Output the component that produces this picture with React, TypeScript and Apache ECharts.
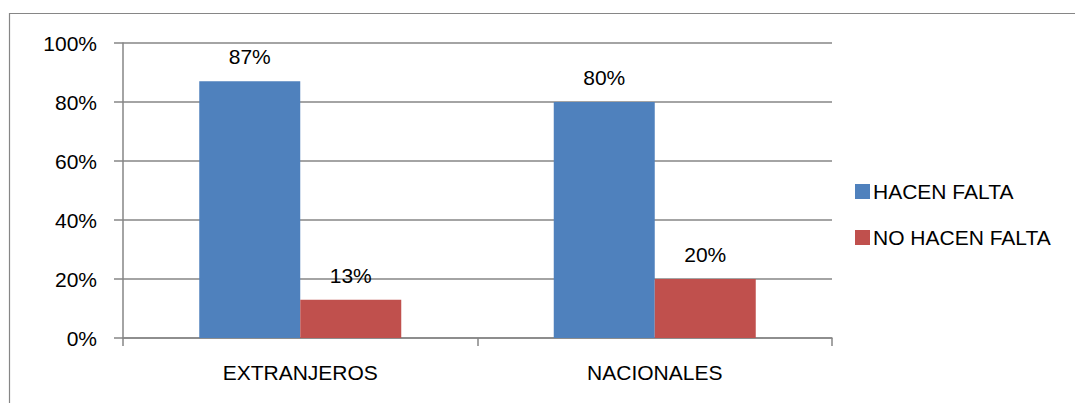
import React, { useEffect, useRef } from "react";
import * as echarts from "echarts";

const categories = ["EXTRANJEROS", "NACIONALES"];
const seriesNames = ["HACEN FALTA", "NO HACEN FALTA"];
const hacenFalta = [87, 80];
const noHacenFalta = [13, 20];
const yTicks = [0, 20, 40, 60, 80, 100];

const FONT = "'Liberation Sans', Arial, sans-serif";
const GRAY = "#868686";

export default function App() {
  const ref = useRef<HTMLDivElement>(null);
  useEffect(() => {
    if (!ref.current) return;
    const chart = echarts.init(ref.current, null, { renderer: "svg" });
    const label = {
      show: true,
      position: "top",
      distance: 14,
      formatter: (p: any) => p.value + "%",
      color: "#000",
      fontSize: 21,
      fontFamily: FONT,
    };
    chart.setOption({
      animation: false,
      textStyle: { fontFamily: FONT },
      graphic: [
        {
          type: "rect",
          shape: { x: 9.5, y: 13.5, width: 1200, height: 600 },
          style: { fill: "none", stroke: GRAY, lineWidth: 1.2 },
          silent: true,
        },
      ],
      grid: { left: 123, top: 43, right: 243, bottom: 65 },
      legend: {
        orient: "vertical",
        left: 850,
        top: 176,
        itemWidth: 15,
        itemHeight: 15,
        itemGap: 25,
        icon: "rect",
        textStyle: { fontSize: 21, color: "#000", fontFamily: FONT, padding: [0, 0, 0, -2] },
        data: seriesNames,
      },
      xAxis: {
        type: "category",
        data: categories,
        axisLine: { lineStyle: { color: GRAY, width: 1.5 } },
        axisTick: { show: true, length: 8, lineStyle: { color: GRAY, width: 1.5 } },
        axisLabel: { color: "#000", fontSize: 21, fontFamily: FONT, margin: 24 },
      },
      yAxis: {
        type: "value",
        min: 0,
        max: 100,
        interval: 20,
        axisLine: { show: true, lineStyle: { color: GRAY, width: 1.5 } },
        axisTick: { show: true, length: 9, lineStyle: { color: GRAY, width: 1.5 } },
        splitLine: { show: true, lineStyle: { color: GRAY, width: 1.5 } },
        axisLabel: {
          color: "#000",
          fontSize: 21,
          fontFamily: FONT,
          margin: 26,
          formatter: (v: number) => (yTicks.includes(v) ? v + "%" : ""),
        },
      },
      series: [
        {
          name: seriesNames[0],
          type: "bar",
          data: hacenFalta,
          barWidth: 101,
          barGap: "0%",
          itemStyle: { color: "#4F81BD" },
          label,
        },
        {
          name: seriesNames[1],
          type: "bar",
          data: noHacenFalta,
          barWidth: 101,
          barGap: "0%",
          itemStyle: { color: "#C0504D" },
          label,
        },
      ],
    });
    return () => chart.dispose();
  }, []);
  return (
    <div
      ref={ref}
      style={{ position: "absolute", left: 0, top: 0, width: 1075, height: 403, background: "#fff" }}
    />
  );
}
